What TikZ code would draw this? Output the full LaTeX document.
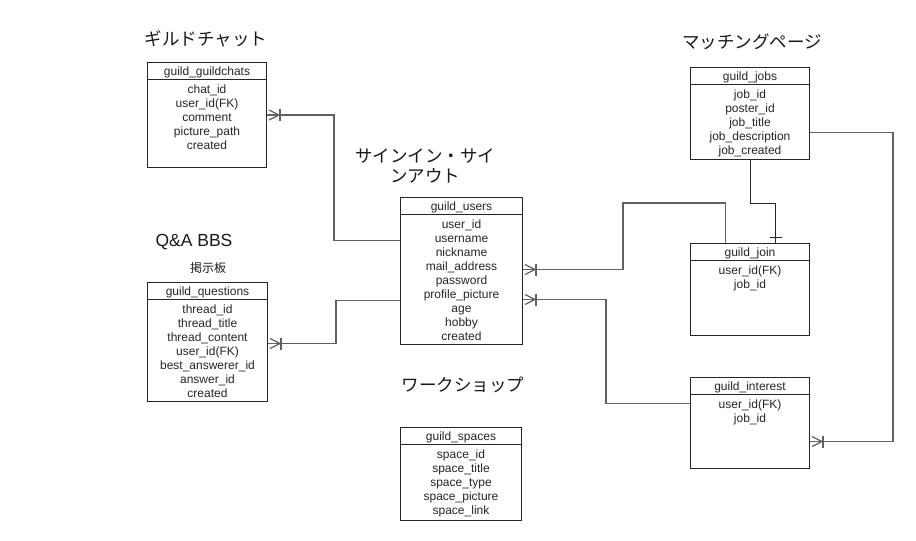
\documentclass[tikz,border=0pt]{standalone}
\usepackage{fontspec}
\setmainfont{Liberation Sans}
\newfontfamily\jp{Noto Sans CJK JP}
\newcommand\ertable[7]{%
  \node[tblbox, minimum width=#4, minimum height=#5, anchor=north west] (#1) at (#2,-#3) {};
  \draw[tblline] ([yshift=-17]#1.north west) -- ([yshift=-17]#1.north east);
  \node[tbltext, anchor=base] (#1-h) at ([yshift=-13.5]#1.north) {#6};
  \foreach \r [count=\i] in {#7} {
    \node[tbltext, anchor=base] (#1-\i) at ([yshift=-14*\i-17.5]#1.north) {\r};
  }
}
\newcommand\crowR[1]{%
  \draw[conn] ([shift={(2,5)}]#1) -- ([shift={(12,0)}]#1) -- ([shift={(2,-5)}]#1);
  \draw[conn] ([shift={(13,6)}]#1) -- ([shift={(13,-6)}]#1);
}
\begin{document}
\begin{tikzpicture}[x=1pt,y=1pt,
  tblbox/.style={draw=black!85, line width=1pt, inner sep=0pt, fill=white},
  tblline/.style={draw=black!85, line width=1pt},
  tbltext/.style={font=\fontsize{12}{14}\selectfont, inner sep=0pt, text=black!85},
  conn/.style={draw=black!62, line width=1.3pt},
  conndark/.style={draw=black!85, line width=1pt},
  title/.style={font=\jp\fontsize{17.5}{20}\selectfont, inner sep=0pt, align=center, text=black!90},
]
\useasboundingbox[fill=white] (0,0) rectangle (916,-541);

% tables
\ertable{chats}{147}{62}{119}{105}{guild\_guildchats}{chat\_id,user\_id(FK),comment,picture\_path,created}
\ertable{quest}{147}{282}{120}{119}{guild\_questions}{thread\_id,thread\_title,thread\_content,user\_id(FK),best\_answerer\_id,answer\_id,created}
\ertable{users}{400}{197}{122}{147}{guild\_users}{user\_id,username,nickname,mail\_address,password,profile\_picture,age,hobby,created}
\ertable{jobs}{690}{67}{119}{92}{guild\_jobs}{job\_id,poster\_id,job\_title,job\_description,job\_created}
\ertable{join}{690}{243}{119}{92}{guild\_join}{user\_id(FK),job\_id}
\ertable{inter}{690}{377}{119}{91}{guild\_interest}{user\_id(FK),job\_id}
\ertable{spaces}{400}{427}{121}{93}{guild\_spaces}{space\_id,space\_title,space\_type,space\_picture,space\_link}

% titles
\node[title] (tChat) at (206,-39) {ギルドチャット};
\node[title] (tSign) at (425,-166) {サインイン・サイ\\ンアウト};
\node[title, font=\fontsize{17.5}{20}\selectfont] (tQA) at (194,-242) {Q\&A BBS};
\node[title, font=\jp\fontsize{12}{14}\selectfont] (tBBS) at (208,-268) {掲示板};
\node[title] (tMatch) at (752,-42) {マッチングページ};
\node[title] (tWork) at (463,-385) {ワークショップ};

% anchor coordinates
\coordinate (uA) at ([yshift=30.5]users.west);
\coordinate (uB) at ([yshift=-29.5]users.west);
\coordinate (uC) at ([yshift=1.5]users.east);
\coordinate (uD) at ([yshift=-28.5]users.east);
\coordinate (qE) at ([yshift=-1.5]quest.east);
\coordinate (jL) at ([xshift=-24.5]join.north);
\coordinate (jR) at ([xshift=25.5]join.north);
\coordinate (jobE) at ([yshift=-19]jobs.east);
\coordinate (iW) at ([yshift=19.5]inter.west);
\coordinate (iE) at ([yshift=-18.5]inter.east);

% connectors
\draw[conn] (chats.east) -- ++(67,0) |- (uA);
\crowR{chats.east}
\draw[conn] (qE) -- ++(68,0) |- (uB);
\crowR{qE}
\draw[conn] (uC) -- ++(100,0) |- ([yshift=40]jL) -- (jL);
\crowR{uC}
\draw[conn] (uD) -- ++(83,0) |- (iW);
\crowR{uD}
\draw[conndark] (jobs.south) -- ++(0,-43) -| (jR);
\draw[conndark] ([shift={(-6,6)}]jR) -- ([shift={(6,6)}]jR);
\draw[conn] (jobE) -- ++(83,0) |- (iE);
\crowR{iE}
\end{tikzpicture}
\end{document}
